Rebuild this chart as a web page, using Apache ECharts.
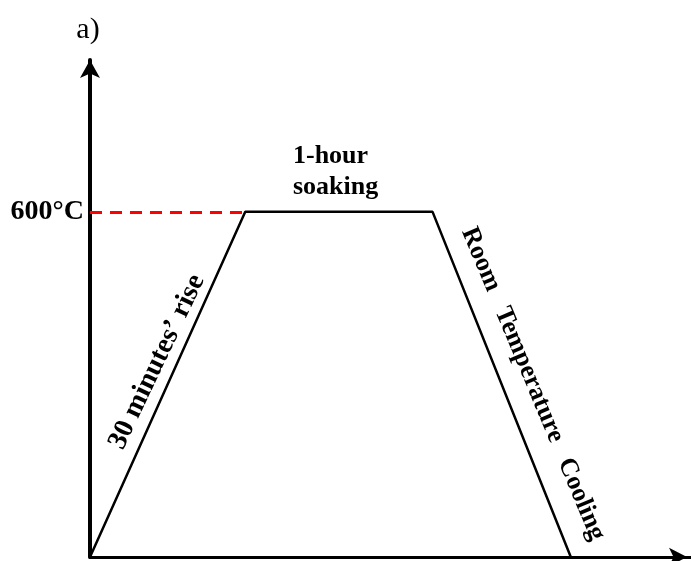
<!DOCTYPE html>
<html>
<head>
<meta charset="utf-8">
<script src="https://cdn.jsdelivr.net/npm/echarts@6/dist/echarts.min.js"></script>
<style>
  html, body { margin: 0; padding: 0; background: #fff; }
  #main { width: 691px; height: 561px; }
</style>
</head>
<body>
<div id="main"></div>
<script>
// profile points: x = position along the time axis (arbitrary units), y = temperature (°C)
var profileX = [0, 155, 342, 480];
var profileY = [0, 600, 600, 0];
var soakTemp = 600;
var yTicks = [0, 600];

var chart = echarts.init(document.getElementById('main'));

var points = profileX.map(function (x, i) { return [x, profileY[i]]; });
var serif = '"Liberation Serif", "DejaVu Serif", serif';

chart.setOption({
  animation: false,
  grid: {
    left: 90,
    right: 0,
    top: 60,
    bottom: 4
  },
  xAxis: {
    type: 'value',
    min: 0,
    max: 600,
    axisLine: {
      symbol: ['none', 'arrow'],
      symbolSize: [14, 18],
      symbolOffset: [0, -4],
      lineStyle: { color: '#000', width: 3 }
    },
    axisTick: { show: false },
    axisLabel: { show: false },
    splitLine: { show: false }
  },
  yAxis: {
    type: 'value',
    min: 0,
    max: 864,
    interval: 600,
    axisLine: {
      show: true,
      symbol: ['none', 'arrow'],
      symbolSize: [15, 18],
      lineStyle: { color: '#000', width: 4 }
    },
    axisTick: { show: false },
    splitLine: { show: false },
    axisLabel: {
      margin: 6,
      color: '#000',
      fontFamily: serif,
      fontWeight: 'bold',
      fontSize: 28,
      padding: [0, 0, 10, 0],
      formatter: function (v) {
        return yTicks.indexOf(v) > 0 ? v + '°C' : '';
      }
    }
  },
  series: [{
    type: 'line',
    data: points,
    symbol: 'none',
    lineStyle: { color: '#000', width: 2.5 },
    markLine: {
      silent: true,
      symbol: 'none',
      label: { show: false },
      lineStyle: { color: '#ff0000', type: [12, 8], width: 3 },
      data: [[{ coord: [0, soakTemp] }, { coord: [profileX[1], soakTemp] }]]
    }
  }],
  graphic: [
    {
      type: 'text',
      x: 88, y: 30,
      style: {
        text: 'a)',
        font: '30px ' + serif,
        fill: '#000',
        align: 'center',
        verticalAlign: 'middle'
      }
    },
    {
      type: 'text',
      x: 293, y: 172,
      style: {
        text: '1-hour\nsoaking',
        font: 'bold 26px ' + serif,
        fill: '#000',
        align: 'left',
        verticalAlign: 'middle',
        lineHeight: 31
      }
    },
    {
      type: 'text',
      x: 157, y: 362,
      rotation: 64.6 * Math.PI / 180,
      style: {
        text: '30 minutes\u2019 rise',
        font: 'bold 28px ' + serif,
        fill: '#000',
        align: 'center',
        verticalAlign: 'middle'
      }
    },
    {
      type: 'text',
      x: 533, y: 384,
      rotation: -67.3 * Math.PI / 180,
      style: {
        text: 'Room   Temperature   Cooling',
        font: 'bold 26px ' + serif,
        fill: '#000',
        align: 'center',
        verticalAlign: 'middle'
      }
    }
  ]
});
</script>
</body>
</html>
